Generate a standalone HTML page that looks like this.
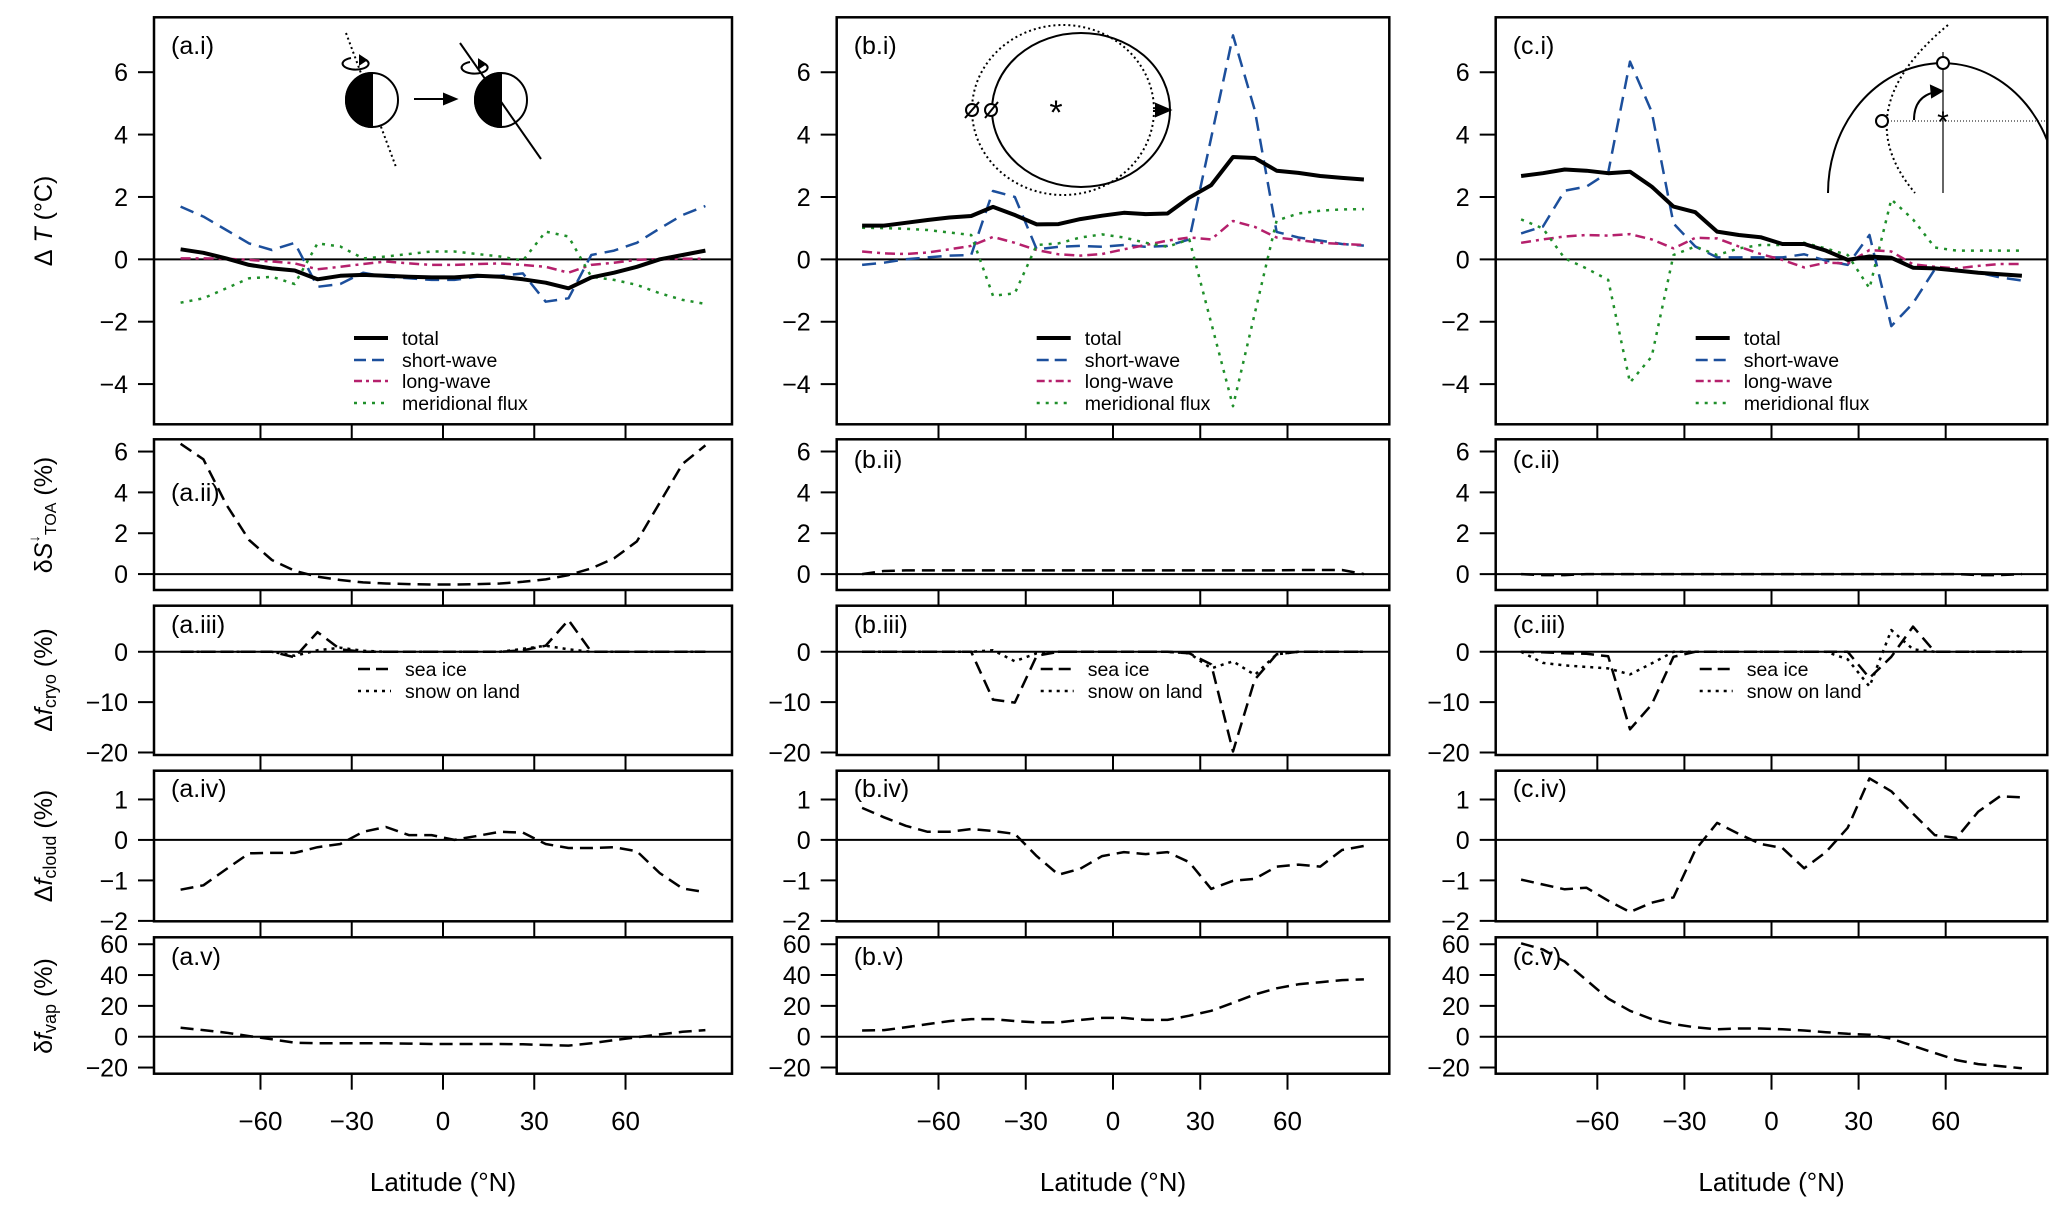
<!DOCTYPE html>
<html><head><meta charset="utf-8"><style>
html,body{margin:0;padding:0;background:#fff;}
svg{display:block;font-family:"Liberation Sans",Arial,sans-serif;}
</style></head><body>
<svg id="fig" width="2067" height="1213" viewBox="0 0 2067 1213" xmlns="http://www.w3.org/2000/svg">
<rect x="0" y="0" width="2067" height="1213" fill="#fff"/>
<g id="plots"></g>
<!-- schematic a -->
<g stroke="#000" fill="none" stroke-width="2">
  <line x1="346" y1="33" x2="396" y2="167" stroke-dasharray="2,3"/>
  <path d="M351,58 A13,6 0 1 0 366,60" />
  <polygon points="366,60 360,56 360,64" fill="#000"/>
  <ellipse cx="372" cy="100" rx="26" ry="27" fill="#fff"/>
  <path d="M372,73 A26,27 0 0 0 372,127 Z" fill="#000"/>
  <line x1="414" y1="99" x2="448" y2="99"/>
  <polygon points="456,99 444,94 444,104" fill="#000"/>
  <ellipse cx="501" cy="100" rx="26" ry="27" fill="#fff"/>
  <path d="M501,73 A26,27 0 0 0 501,127 Z" fill="#000"/>
  <line x1="460" y1="43" x2="541" y2="159"/>
  <path d="M470,62 A13,6 0 1 0 485,64" />
  <polygon points="485,64 479,60 479,68" fill="#000"/>
</g>
<!-- schematic b -->
<g stroke="#000" fill="none" stroke-width="2">
  <ellipse cx="1063" cy="110" rx="91" ry="85" stroke-dasharray="2,3"/>
  <ellipse cx="1081" cy="110" rx="89" ry="77"/>
  <polygon points="1170,110 1156,104 1156,116" fill="#000"/>
  <text x="1056" y="124" font-size="34" fill="#000" stroke="none" text-anchor="middle">*</text>
  <circle cx="972" cy="110" r="6" fill="#fff"/>
  <circle cx="991" cy="110" r="6" fill="#fff"/>
  <line x1="965" y1="118" x2="979" y2="102"/>
  <line x1="985" y1="118" x2="998" y2="102"/>
</g>
<!-- schematic c -->
<g stroke="#000" fill="none" stroke-width="2">
  <path d="M1828,193 A114.5,130 0 0 1 2047,140"/>
  <path d="M1948,25 Q1845,110 1915,193" stroke-dasharray="2,3"/>
  <line x1="1943" y1="52" x2="1943" y2="193" stroke-width="1.2"/>
  <line x1="1882" y1="121" x2="2047" y2="121" stroke-width="1" stroke-dasharray="1,2"/>
  <text x="1943" y="132" font-size="30" fill="#000" stroke="none" text-anchor="middle">*</text>
  <circle cx="1943" cy="63" r="6" fill="#fff"/>
  <circle cx="1882" cy="121" r="6" fill="#fff"/>
  <path d="M1914,120 Q1914,96 1936,92"/>
  <polygon points="1942,91 1931,86 1932,97" fill="#000"/>
</g>
</svg>
<script>
const lats = [-86.25,-78.75,-71.25,-63.75,-56.25,-48.75,-41.25,-33.75,-26.25,-18.75,-11.25,-3.75,3.75,11.25,18.75,26.25,33.75,41.25,48.75,56.25,63.75,71.25,78.75,86.25];
const xTicks = [-60,-30,0,30,60];
const yTicksI = [-4,-2,0,2,4,6];
const yTicksII = [0,2,4,6];
const yTicksIII = [-20,-10,0];
const yTicksIV = [-2,-1,0,1];
const yTicksV = [-20,0,20,40,60];

const a_i_total=[0.32,0.21,0.03,-0.18,-0.29,-0.36,-0.64,-0.53,-0.5,-0.53,-0.56,-0.58,-0.58,-0.53,-0.56,-0.64,-0.75,-0.93,-0.58,-0.43,-0.24,0,0.14,0.28];
const a_i_sw=[1.69,1.37,0.94,0.51,0.3,0.53,-0.88,-0.79,-0.43,-0.56,-0.61,-0.66,-0.66,-0.56,-0.53,-0.45,-1.36,-1.25,0.14,0.28,0.53,0.99,1.42,1.71];
const a_i_lw=[0.03,0.03,0.02,-0.02,-0.07,-0.13,-0.32,-0.24,-0.15,-0.07,-0.13,-0.18,-0.18,-0.15,-0.13,-0.18,-0.24,-0.43,-0.18,-0.11,-0.02,0.01,0.02,0.02];
const a_i_mf=[-1.39,-1.25,-0.93,-0.61,-0.56,-0.79,0.51,0.41,0.03,0.09,0.17,0.25,0.25,0.17,0.09,-0.04,0.89,0.73,-0.56,-0.66,-0.82,-1.09,-1.3,-1.43];
const a_ii=[6.38,5.62,3.4,1.67,0.69,0.16,-0.13,-0.29,-0.41,-0.46,-0.49,-0.51,-0.51,-0.49,-0.46,-0.38,-0.26,-0.05,0.28,0.77,1.6,3.5,5.4,6.3];
const a_iii_ice=[0,0,0,0,0,-1.1,3.9,0.5,0,0,0,0,0,0,0,0.3,1.2,6.3,0,0,0,0,0,0];
const a_iii_snow=[0,0,0,0,0,-0.8,0.3,0.8,0.2,0,0,0,0,0,0,0.6,1.2,0.5,0,0,0,0,0,0];
const a_iv=[-1.23,-1.12,-0.72,-0.33,-0.32,-0.32,-0.18,-0.1,0.2,0.32,0.12,0.12,0.0,0.1,0.2,0.18,-0.1,-0.2,-0.2,-0.18,-0.28,-0.82,-1.2,-1.29];
const a_v=[5.8,4.3,2.6,0.4,-1.7,-3.9,-4.3,-4.3,-4.3,-4.3,-4.5,-4.7,-4.7,-4.7,-4.7,-4.9,-5.4,-5.8,-4.3,-2.2,-0.4,1.5,3.2,4.3];

const b_i_total=[1.08,1.08,1.17,1.26,1.34,1.39,1.68,1.42,1.12,1.13,1.29,1.4,1.49,1.45,1.47,1.98,2.38,3.28,3.25,2.84,2.77,2.67,2.61,2.56];
const b_i_sw=[-0.18,-0.11,0,0.06,0.12,0.14,2.19,2.0,0.32,0.4,0.43,0.4,0.46,0.4,0.43,0.64,3.9,7.18,4.78,0.88,0.7,0.6,0.49,0.44];
const b_i_lw=[0.25,0.19,0.17,0.22,0.32,0.43,0.72,0.53,0.3,0.16,0.12,0.17,0.32,0.46,0.6,0.7,0.64,1.23,1.04,0.7,0.62,0.53,0.49,0.46];
const b_i_mf=[1.01,1.0,0.98,0.94,0.86,0.78,-1.17,-1.09,0.46,0.51,0.7,0.8,0.7,0.53,0.4,0.64,-2.04,-4.71,-1.73,1.24,1.47,1.56,1.6,1.61];
const b_ii=[0,0.15,0.18,0.18,0.18,0.18,0.18,0.18,0.18,0.18,0.18,0.18,0.18,0.18,0.18,0.18,0.18,0.18,0.18,0.18,0.2,0.2,0.2,0];
const b_iii_ice=[0,0,0,0,0,0,-9.5,-10.1,-0.8,0,0,0,0,0,0,-0.3,-2.5,-19.8,-5.5,-0.5,0,0,0,0];
const b_iii_snow=[0,0,0,0,0,0,0.3,-1.9,-0.3,0,0,0,0,0,0,-0.3,-3.3,-1.9,-4.6,-0.5,0,0,0,0];
const b_iv=[0.79,0.56,0.35,0.2,0.2,0.27,0.22,0.15,-0.4,-0.86,-0.71,-0.4,-0.3,-0.35,-0.3,-0.55,-1.21,-1.01,-0.96,-0.66,-0.61,-0.66,-0.25,-0.15];
const b_v=[4,4.3,6.1,8.2,10.1,11.4,11.4,10.1,9.3,9.3,10.9,12.2,12.2,10.9,10.9,13.6,16.8,22,27.4,31.4,34,35.4,36.7,37.2];

const c_i_total=[2.67,2.76,2.88,2.84,2.76,2.81,2.33,1.69,1.51,0.89,0.78,0.71,0.49,0.49,0.28,-0.02,0.09,0.05,-0.27,-0.29,-0.36,-0.43,-0.48,-0.53];
const c_i_sw=[0.83,1.05,2.2,2.33,2.78,6.34,4.73,1.15,0.41,0.06,0.06,0.06,0.06,0.16,-0.04,-0.18,0.78,-2.14,-1.41,-0.32,-0.34,-0.43,-0.58,-0.68];
const c_i_lw=[0.53,0.64,0.73,0.78,0.76,0.81,0.64,0.35,0.69,0.67,0.41,0.17,-0.02,-0.26,-0.11,-0.13,0.3,0.25,-0.16,-0.24,-0.29,-0.21,-0.15,-0.15];
const c_i_mf=[1.28,0.99,0.03,-0.29,-0.66,-3.95,-3.12,0.14,0.41,0.14,0.35,0.46,0.46,0.53,0.35,0.14,-0.93,1.92,1.28,0.38,0.28,0.28,0.28,0.28];
const c_ii=[0,-0.05,-0.05,0,0,0,0,0,0,0,0,0,0,0,0,0,0,0,0,0,0,-0.05,-0.05,0];
const c_iii_ice=[0,-0.1,-0.3,-0.4,-0.9,-15.4,-10.5,-1,0,0,0,0,0,0,0,0,-5.2,-1,5.0,0,0,0,0,0];
const c_iii_snow=[0,-2.2,-2.7,-3,-3.3,-4.5,-2.3,0,0,0,0,0,0,0,0,-1.5,-6.9,4.3,0.5,0,0,0,0,0];
const c_iv=[-0.98,-1.1,-1.22,-1.18,-1.5,-1.78,-1.55,-1.42,-0.25,0.42,0.15,-0.1,-0.2,-0.7,-0.3,0.3,1.52,1.2,0.65,0.12,0.05,0.7,1.08,1.05];
const c_v=[60.6,56.6,48.7,36.7,24.7,16.8,11.4,8.2,6.1,4.8,5.3,5.3,4.8,4,2.9,1.9,1.3,-1.3,-5.9,-10.6,-15.2,-17.8,-19.1,-20.5];

const NS='http://www.w3.org/2000/svg';
const root=document.getElementById('plots');
function mk(tag,attrs,parent){const e=document.createElementNS(NS,tag);for(const k in attrs)e.setAttribute(k,attrs[k]);(parent||root).appendChild(e);return e;}

const COLS=[{L:154,R:732,key:'a'},{L:836.7,R:1389.3,key:'b'},{L:1495.7,R:2047.3,key:'c'}];
const ROWS=[
 {t:17.3,b:424.3,min:-5.29,max:7.76,ticks:yTicksI,key:'i',lab:45},
 {t:439.3,b:590,min:-0.78,max:6.6,ticks:yTicksII,key:'ii',lab:459},
 {t:605.7,b:755,min:-20.5,max:9.15,ticks:yTicksIII,key:'iii',lab:624},
 {t:770.7,b:921.3,min:-2.01,max:1.71,ticks:yTicksIV,key:'iv',lab:788},
 {t:937.3,b:1073.7,min:-24,max:64.5,ticks:yTicksV,key:'v',lab:956}];
function xs(c,lat){return c.L+(lat+95)/190*(c.R-c.L);}
function ys(r,v){return r.b-(v-r.min)/(r.max-r.min)*(r.b-r.t);}
function fmt(v){return v<0?'\u2212'+Math.abs(v):String(v);}

const STY={
 total:{stroke:'#000',w:4,dash:''},
 sw:{stroke:'#1c4f9c',w:2.5,dash:'14,8'},
 lw:{stroke:'#b5206c',w:2.5,dash:'10,5,3,5'},
 mf:{stroke:'#1f8f2a',w:2.5,dash:'3,6'},
 dash:{stroke:'#000',w:2.5,dash:'13,7'},
 dot:{stroke:'#000',w:2.5,dash:'3,5'}};

const SERIES={
 a:[[['sw',a_i_sw],['lw',a_i_lw],['mf',a_i_mf],['total',a_i_total]],[['dash',a_ii]],[['dash',a_iii_ice],['dot',a_iii_snow]],[['dash',a_iv]],[['dash',a_v]]],
 b:[[['sw',b_i_sw],['lw',b_i_lw],['mf',b_i_mf],['total',b_i_total]],[['dash',b_ii]],[['dash',b_iii_ice],['dot',b_iii_snow]],[['dash',b_iv]],[['dash',b_v]]],
 c:[[['sw',c_i_sw],['lw',c_i_lw],['mf',c_i_mf],['total',c_i_total]],[['dash',c_ii]],[['dash',c_iii_ice],['dot',c_iii_snow]],[['dash',c_iv]],[['dash',c_v]]]};
const SNAME={total:'total-line',sw:'short-wave-line',lw:'long-wave-line',mf:'meridional-flux-line',dash:'dashed-line',dot:'dotted-line'};

COLS.forEach((c,ci)=>{
 ROWS.forEach((r,ri)=>{
  const g=mk('g',{});
  
  
  const z=mk('line',{x1:c.L,x2:c.R,y1:ys(r,0),y2:ys(r,0),stroke:'#000','stroke-width':2},g);
  
  
  SERIES[c.key][ri].forEach(([k,vals])=>{
   const s=STY[k];
   const d=vals.map((v,i)=>(i?'L':'M')+xs(c,lats[i]).toFixed(1)+','+ys(r,v).toFixed(1)).join(' ');
   const p=mk('path',{d:d,fill:'none',stroke:s.stroke,'stroke-width':s.w,'stroke-dasharray':s.dash,'stroke-linejoin':'round'},g);
   
   
  });
  const fr=mk('rect',{x:c.L,y:r.t,width:c.R-c.L,height:r.b-r.t,fill:'none',stroke:'#000','stroke-width':2.5},g);
  
  
  r.ticks.forEach(t=>{
   const y=ys(r,t);
   const tl=mk('line',{x1:c.L-16,x2:c.L,y1:y,y2:y,stroke:'#000','stroke-width':2},g);
   
   
   const tx=mk('text',{x:c.L-26,y:y+9,'font-size':25,'text-anchor':'end',fill:'#000'},g);
   tx.textContent=fmt(t);
   
   
  });
  xTicks.forEach(t=>{
   const x=xs(c,t);
   const tl=mk('line',{x1:x,x2:x,y1:r.b,y2:r.b+16,stroke:'#000','stroke-width':2},g);
   
   
   if(ri===4){
    const tx=mk('text',{x:x,y:1130,'font-size':26,'text-anchor':'middle',fill:'#000'},g);
    tx.textContent=fmt(t);
    
    
   }
  });
  const ly=(c.key==='a'&&r.key==='ii')?492:r.lab;
  const pl=mk('text',{x:c.L+17,y:ly+9,'font-size':25,fill:'#000'},g);
  pl.textContent='('+c.key+'.'+r.key+')';
  
  
 });
 const xt=mk('text',{x:(c.L+c.R)/2,y:1191,'font-size':26,'text-anchor':'middle',fill:'#000'});
 xt.textContent='Latitude (°N)';
 
 
 const lg=mk('g',{});
 
 
 [['total','total',338],['sw','short-wave',360],['lw','long-wave',381],['mf','meridional flux',403]].forEach(([k,label,y])=>{
  const s=STY[k];
  const ln=mk('line',{x1:c.L+200,x2:c.L+234,y1:y,y2:y,stroke:s.stroke,'stroke-width':s.w,'stroke-dasharray':k==='sw'?'12,6':(k==='lw'?'8,4,3,4':s.dash)},lg);
  
  
  const tx=mk('text',{x:c.L+248,y:y+7,'font-size':19.5,fill:'#000'},lg);
  tx.textContent=label;
  
  
 });
 const lg2=mk('g',{});
 
 
 [['dash','sea ice',669],['dot','snow on land',691]].forEach(([k,label,y])=>{
  const ln=mk('line',{x1:c.L+204,x2:c.L+237,y1:y,y2:y,stroke:'#000','stroke-width':2.5,'stroke-dasharray':k==='dash'?'12,6':'3,5'},lg2);
  
  
  const tx=mk('text',{x:c.L+251,y:y+7,'font-size':19.5,fill:'#000'},lg2);
  tx.textContent=label;
  
  
 });
});

const yTitles=[
 {cy:221,html:'<tspan>Δ</tspan><tspan font-style="italic"> T</tspan><tspan> (°C)</tspan>',name:'y-axis-title-temperature'},
 {cy:515,html:'<tspan>δ</tspan><tspan font-style="italic">S</tspan><tspan font-size="15" dy="-13">↓</tspan><tspan font-size="16" dy="17">TOA</tspan><tspan dy="-4"> (%)</tspan>',name:'y-axis-title-insolation'},
 {cy:680,html:'<tspan>Δ</tspan><tspan font-style="italic">f</tspan><tspan font-size="18" dy="4">cryo</tspan><tspan dy="-4"> (%)</tspan>',name:'y-axis-title-cryosphere'},
 {cy:846,html:'<tspan>Δ</tspan><tspan font-style="italic">f</tspan><tspan font-size="18" dy="4">cloud</tspan><tspan dy="-4"> (%)</tspan>',name:'y-axis-title-cloud'},
 {cy:1006,html:'<tspan>δ</tspan><tspan font-style="italic">f</tspan><tspan font-size="18" dy="4">vap</tspan><tspan dy="-4"> (%)</tspan>',name:'y-axis-title-vapour'}];
yTitles.forEach(t=>{
 const tx=mk('text',{x:0,y:0,'font-size':25,'text-anchor':'middle',fill:'#000',transform:'translate(52,'+t.cy+') rotate(-90)'});
 tx.innerHTML=t.html;
 
 
});
</script>
</body></html>
